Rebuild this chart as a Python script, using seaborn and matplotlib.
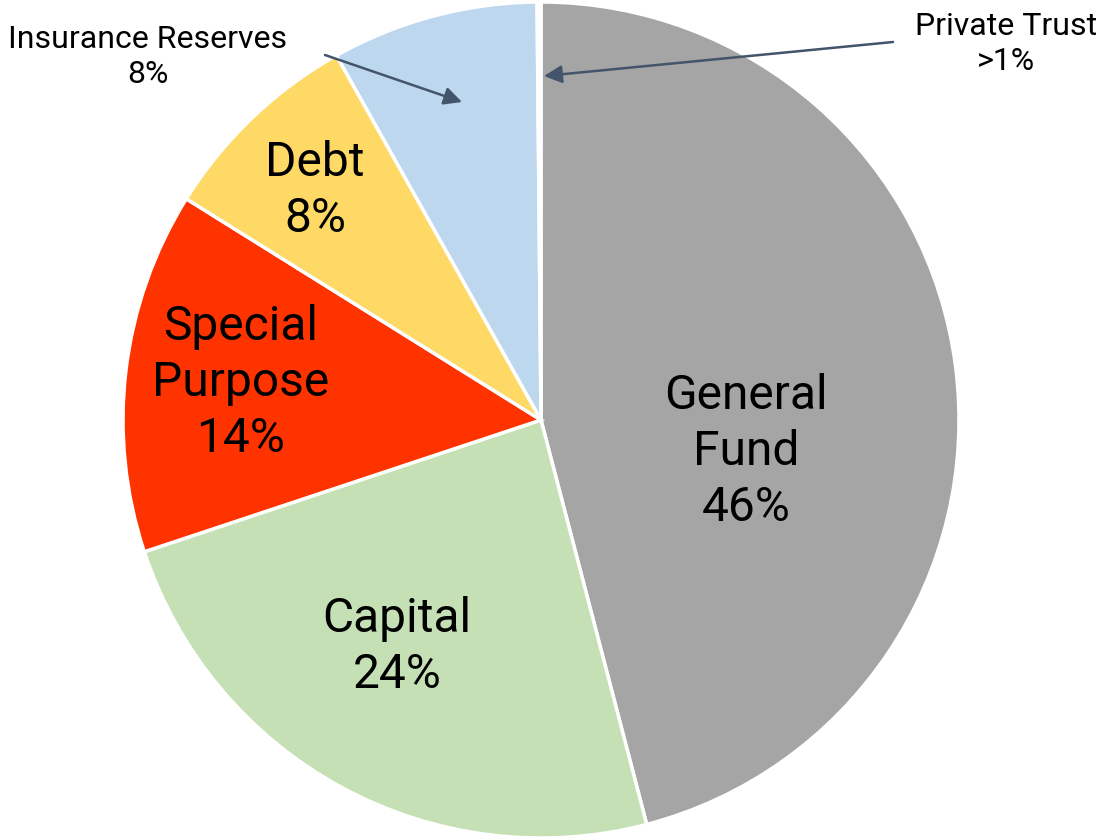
import matplotlib
matplotlib.use("Agg")
import matplotlib.pyplot as plt
import seaborn as sns

# Fund shares, clockwise from 12 o'clock
funds = ["General Fund", "Capital", "Special Purpose", "Debt",
         "Insurance Reserves", "Private Trust"]
shares = [46, 24, 14, 8, 8, 0.15]
share_labels = ["46%", "24%", "14%", "8%", "8%", ">1%"]
colors = ["#A5A5A5", "#C5E0B4", "#FF3300", "#FFD966", "#BDD7EE", "#FFFFFF"]

sns.set_theme(style="white")
plt.rcParams["font.family"] = ["Roboto", "DejaVu Sans"]

W, H = 1099, 838
fig = plt.figure(figsize=(W / 100, H / 100), dpi=100)
ax = fig.add_axes([0, 0, 1, 1])

ax.pie(shares, colors=colors, startangle=90, counterclock=False,
       center=(541, H - 420), radius=418,
       wedgeprops=dict(edgecolor="white", linewidth=2.5))

# pie() resets the limits, so fix the pixel-sized frame afterwards
ax.set_xlim(0, W)
ax.set_ylim(0, H)
ax.set_aspect("equal")
ax.axis("off")

big = 34.5
small = 23


def py(y):
    return H - y


# labels inside the larger wedges
inside = {
    0: (746, 452, "General\nFund"),
    1: (397, 647, "Capital"),
    2: (241, 383, "Special\nPurpose"),
    3: (315, 191, "Debt"),
}
for i, (x, y, name) in inside.items():
    ax.text(x, py(y), f"{name}\n{share_labels[i]}", ha="center", va="center",
            fontsize=big, color="black", linespacing=1.27)

# callouts for the narrow wedges
ax.text(148, py(57), f"{funds[4]}\n{share_labels[4]}", ha="center", va="center",
        fontsize=small, color="black", linespacing=1.3)
ax.text(1006, py(44), f"{funds[5]}\n{share_labels[5]}", ha="center", va="center",
        fontsize=small, color="black", linespacing=1.3)

arrow = dict(arrowstyle="-|>,head_length=0.9,head_width=0.45", color="#44546A",
             lw=1.8, shrinkA=0, shrinkB=0)
ax.annotate("", xy=(462, py(102)), xytext=(325, py(55)), arrowprops=arrow)
ax.annotate("", xy=(544, py(76)), xytext=(893, py(42)), arrowprops=arrow)

fig.savefig("out.png", dpi=100, facecolor="white")
